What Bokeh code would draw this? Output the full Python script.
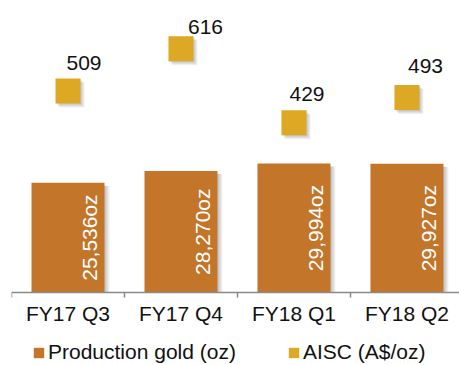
import math
from bokeh.plotting import figure
from bokeh.models import Range1d, LinearAxis, FixedTicker, Legend, LegendItem
from bokeh.core.properties import value
from bokeh.embed import file_html
from bokeh.resources import INLINE

# ---- data ----
categories = ["FY17 Q3", "FY17 Q4", "FY18 Q1", "FY18 Q2"]
production_oz = [25536, 28270, 29994, 29927]
aisc = [509, 616, 429, 493]
production_labels = ["25,536oz", "28,270oz", "29,994oz", "29,927oz"]
aisc_labels = ["509", "616", "429", "493"]

# ---- style ----
FONT = "Liberation Sans"
BAR = "#C3752A"
GOLD = "#DDA925"
AXIS = "#8A8A8A"
label_dx = [-1.5, 7, -4.5, 1]     # label nudges (px)
label_dy = [-28, -22, -29, -31]

W, H = 459, 365
X_END = 3.965
FRAME_W = W - 11
ZERO_PX = 292                    # distance of value 0 from top
OZ_PER_PX = 232.5
AISC_PER_PX = 2.527

xs = [i + 0.5 for i in range(len(categories))]
dxp = X_END / FRAME_W

p = figure(width=W, height=H, output_backend="svg", toolbar_location=None,
           x_range=Range1d(0, X_END),
           y_range=Range1d(-(H - ZERO_PX) * OZ_PER_PX, ZERO_PX * OZ_PER_PX),
           min_border_left=11, min_border_right=0, min_border_top=0,
           min_border_bottom=0,
           x_axis_location=None, y_axis_location=None)
p.extra_y_ranges = {"aisc": Range1d(-(H - ZERO_PX) * AISC_PER_PX, ZERO_PX * AISC_PER_PX)}
p.outline_line_color = None
p.xgrid.visible = False
p.ygrid.visible = False
p.background_fill_color = "white"
p.border_fill_color = "white"

xaxis = LinearAxis(
    fixed_location=0,
    ticker=FixedTicker(ticks=xs, minor_ticks=[0, 1, 2, 3, 4]),
    major_label_overrides={x: c for x, c in zip(xs, categories)},
    major_tick_line_color=None, major_tick_in=0, major_tick_out=5,
    minor_tick_in=0, minor_tick_out=5, minor_tick_line_color=AXIS, minor_tick_line_width=1.5,
    axis_line_color=AXIS, axis_line_width=1.5,
    major_label_text_font=FONT, major_label_text_font_size="21px",
    major_label_text_color="#111111", major_label_standoff=4,
)
p.add_layout(xaxis, "below")

# bar shadows
for k in range(1, 6):
    p.vbar(x=[x + k * dxp for x in xs], top=[t - 3 * OZ_PER_PX for t in production_oz],
           width=0.646, fill_color="black", fill_alpha=0.05, line_color=None)
bars = p.vbar(x=xs, top=production_oz, width=0.646, fill_color=BAR, line_color=None)

p.text(x=xs, y=[t / 2 for t in production_oz], text=production_labels,
       angle=math.pi / 2, text_align="center", text_baseline="alphabetic",
       x_offset=22, text_color="white", text_font=value(FONT), text_font_size="21px")

# square shadows
for k in range(1, 5):
    p.rect(x=[x + k * dxp for x in xs], y=[a - k * AISC_PER_PX for a in aisc],
           width=25, height=25, width_units="screen", height_units="screen",
           fill_color="black", fill_alpha=0.06, line_color=None, y_range_name="aisc")
p.scatter(x=xs, y=aisc, marker="square", size=25, fill_color=GOLD,
          line_color=None, y_range_name="aisc")

p.text(x=xs, y=aisc, text=aisc_labels, x_offset=label_dx, y_offset=label_dy,
       text_align="left", text_baseline="alphabetic", text_color="#111111",
       text_font=value(FONT), text_font_size="21px", y_range_name="aisc")

# legend proxy for the AISC series (hidden)
gold_proxy = p.vbar(x=xs, top=aisc, width=0.6, fill_color=GOLD, line_color=None,
                    y_range_name="aisc", visible=False)

legend = Legend(items=[LegendItem(label="Production gold (oz)", renderers=[bars]),
                       LegendItem(label="AISC (A$/oz)", renderers=[gold_proxy])],
                orientation="horizontal", location=(21, 1),
                glyph_width=13, glyph_height=13, label_standoff=3, spacing=51,
                padding=0, margin=0, border_line_color=None, background_fill_alpha=0,
                label_text_font=FONT, label_text_font_size="21px",
                label_text_color="#111111")
p.add_layout(legend)

open("out.html", "w").write(file_html(p, INLINE))
